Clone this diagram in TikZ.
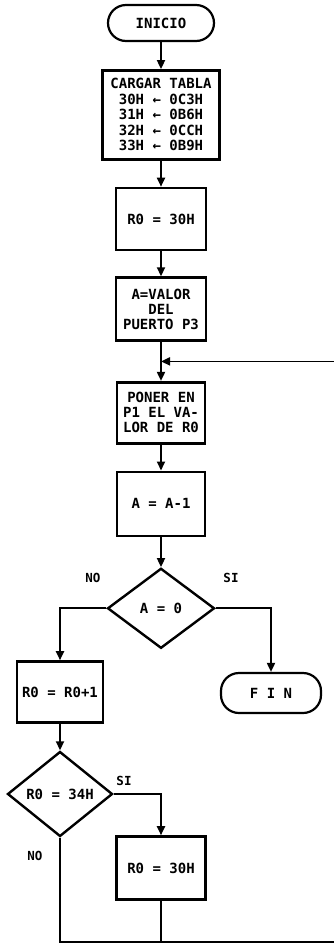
\documentclass[tikz,border=0pt]{standalone}
\usepackage{fontspec}
\setmonofont{DejaVu Sans Mono}
\usetikzlibrary{shapes.geometric, arrows.meta, positioning, calc}
\tikzset{
  box/.style      = {draw=black, line width=2.6pt, rectangle, align=center, inner sep=1pt,
                     font=\fontsize{14}{15}\selectfont\ttfamily\bfseries},
  term/.style     = {box, rounded corners=18pt, line width=2.2pt},
  decision/.style = {box, diamond, line width=2.4pt, inner sep=0pt},
  flow/.style     = {-{Triangle[length=9pt, width=8pt]}, draw=black, line width=1.8pt},
  link/.style     = {draw=black, line width=1.8pt},
  tag/.style      = {font=\fontsize{12.5}{12}\selectfont\ttfamily\bfseries},
}
\begin{document}
\begin{tikzpicture}[x=1pt, y=-1pt]
  \useasboundingbox (0,0) rectangle (334,946);

  % main column
  \node[term, minimum width=106pt, minimum height=36pt] (inicio) at (161,23) {INICIO};
  \node[box, minimum width=117pt, minimum height=89pt, below=27pt of inicio,
        font=\fontsize{14}{15.5}\selectfont\ttfamily\bfseries] (tabla)
    {CARGAR TABLA\\30H ← 0C3H\\31H ← 0B6H\\32H ← 0CCH\\33H ← 0B9H};
  \node[box, minimum width=90pt, minimum height=62pt, below=26pt of tabla] (r0) {R0 = 30H};
  \node[box, minimum width=90pt, minimum height=63pt, below=25pt of r0] (valor)
    {A=VALOR\\DEL\\PUERTO P3};
  \node[box, minimum width=88pt, minimum height=61pt, below=39pt of valor] (poner)
    {PONER EN\\P1 EL VA-\\LOR DE R0};
  \node[box, minimum width=88pt, minimum height=64pt, below=26pt of poner] (resta) {A = A-1};
  \node[decision, minimum width=107pt, minimum height=80pt, below=30pt of resta] (dec) {A = 0};

  % branches
  \node[box, minimum width=86pt, minimum height=61pt] (inc) at (60,692) {R0 = R0+1};
  \node[term, minimum width=100pt, minimum height=40pt] (fin) at (271,693) {F I N};
  \node[decision, minimum width=105pt, minimum height=85pt] (cmp) at (60,794) {R0 = 34H};
  \node[box, minimum width=89pt, minimum height=63pt] (reset) at (161,868) {R0 = 30H};

  \node[tag] (no1) at (93,578) {NO};
  \node[tag] (si1) at (231,578) {SI};
  \node[tag] (si2) at (124,781) {SI};
  \node[tag] (no2) at (35,856) {NO};

  \coordinate (merge) at ($(valor.south)!0.5!(poner.north)$);
  \coordinate (loopR) at (341,942);

  \draw[flow] (inicio) -- (tabla);
  \draw[flow] (tabla) -- (r0);
  \draw[flow] (r0) -- (valor);
  \draw[flow] (valor) -- (poner);
  \draw[flow] (poner) -- (resta);
  \draw[flow] (resta) -- (dec);
  \draw[flow] (dec.west) -| (inc.north);
  \draw[flow] (dec.east) -| (fin.north);
  \draw[flow] (inc) -- (cmp);
  \draw[flow] (cmp.east) -| (reset.north);
  \draw[flow] (cmp.south) |- (loopR) |- (merge);
  \draw[link] (reset.south) -- (reset.south |- loopR);
\end{tikzpicture}
\end{document}
